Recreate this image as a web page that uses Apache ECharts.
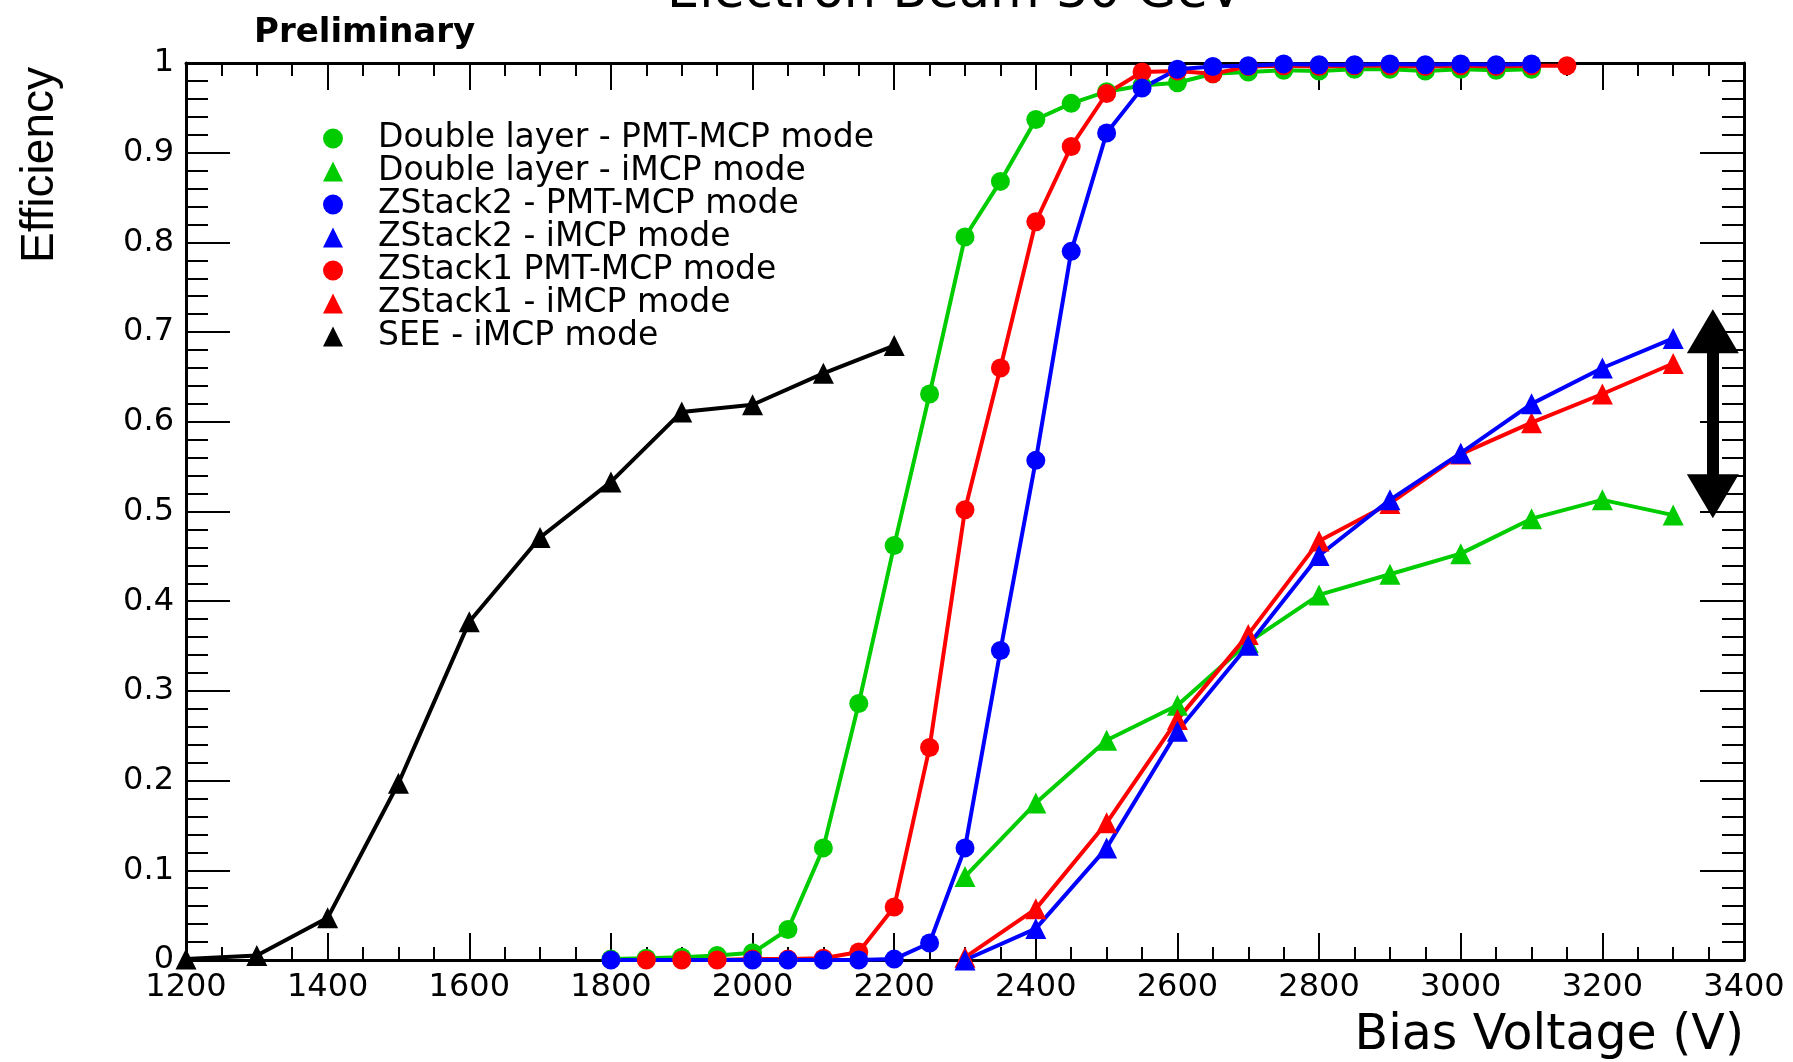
<!DOCTYPE html>
<html>
<head>
<meta charset="utf-8">
<script src="https://cdn.jsdelivr.net/npm/echarts@6/dist/echarts.min.js"></script>
<style>
  html, body { margin: 0; padding: 0; background: #fff; }
  #chart { width: 1793px; height: 1062px; }
</style>
</head>
<body>
<div id="chart"></div>
<script>
// Double layer - PMT-MCP mode (green circles)
const dlPmtV = [1800, 1850, 1900, 1950, 2000, 2050, 2100, 2150, 2200, 2250, 2300, 2350, 2400, 2450, 2500, 2550, 2600, 2650, 2700, 2750, 2800, 2850, 2900, 2950, 3000, 3050, 3100];
const dlPmtEff = [0.001, 0.002, 0.003, 0.005, 0.008, 0.034, 0.125, 0.286, 0.462, 0.631, 0.806, 0.868, 0.937, 0.955, 0.968, 0.975, 0.978, 0.988, 0.990, 0.992, 0.991, 0.993, 0.993, 0.991, 0.993, 0.992, 0.993];

// Double layer - iMCP mode (green triangles)
const dlImcpV = [2300, 2400, 2500, 2600, 2700, 2800, 2900, 3000, 3100, 3200, 3300];
const dlImcpEff = [0.093, 0.175, 0.245, 0.284, 0.354, 0.407, 0.430, 0.453, 0.492, 0.513, 0.496];

// ZStack2 - PMT-MCP mode (blue circles)
const zs2PmtV = [1800, 2000, 2050, 2100, 2150, 2200, 2250, 2300, 2350, 2400, 2450, 2500, 2550, 2600, 2650, 2700, 2750, 2800, 2850, 2900, 2950, 3000, 3050, 3100];
const zs2PmtEff = [0, 0, 0, 0, 0, 0.001, 0.019, 0.125, 0.345, 0.557, 0.790, 0.922, 0.972, 0.993, 0.996, 0.997, 0.999, 0.998, 0.998, 0.999, 0.998, 0.999, 0.998, 0.999];

// ZStack2 - iMCP mode (blue triangles)
const zs2ImcpV = [2300, 2400, 2500, 2600, 2700, 2800, 2900, 3000, 3100, 3200, 3300];
const zs2ImcpEff = [0, 0.035, 0.125, 0.255, 0.351, 0.451, 0.513, 0.565, 0.620, 0.660, 0.693];

// ZStack1 PMT-MCP mode (red circles)
const zs1PmtV = [1850, 1900, 1950, 2000, 2050, 2100, 2150, 2200, 2250, 2300, 2350, 2400, 2450, 2500, 2550, 2600, 2650, 2700, 2750, 2800, 2850, 2900, 2950, 3000, 3050, 3100, 3150];
const zs1PmtEff = [0, 0, 0, 0.001, 0.001, 0.002, 0.009, 0.059, 0.237, 0.502, 0.660, 0.823, 0.907, 0.966, 0.990, 0.991, 0.988, 0.996, 0.997, 0.996, 0.997, 0.997, 0.996, 0.997, 0.996, 0.997, 0.997];

// ZStack1 - iMCP mode (red triangles)
const zs1ImcpV = [2300, 2400, 2500, 2600, 2700, 2800, 2900, 3000, 3100, 3200, 3300];
const zs1ImcpEff = [0.003, 0.057, 0.153, 0.268, 0.363, 0.467, 0.509, 0.564, 0.599, 0.631, 0.665];

// SEE - iMCP mode (black triangles)
const seeV = [1200, 1300, 1400, 1500, 1600, 1700, 1800, 1900, 2000, 2100, 2200];
const seeEff = [0.001, 0.005, 0.047, 0.197, 0.377, 0.471, 0.533, 0.611, 0.619, 0.654, 0.685];

// spread arrow at the right edge (shaft ends, heads sit on them)
const arrowV = 3356;
const arrowTop = 0.701;
const arrowBottom = 0.517;

const GREEN = "#00cc00";
const RED = "#ff0000";
const BLUE = "#0000ff";
const BLACK = "#000000";

const zip = (xs, ys) => xs.map((x, i) => [x, ys[i]]);

const makeSeries = (name, xs, ys, color, symbol) => ({
  name: name,
  type: "line",
  data: zip(xs, ys),
  symbol: symbol,
  symbolSize: symbol === "circle" ? 19 : 21,
  showAllSymbol: true,
  itemStyle: { color: color },
  lineStyle: { color: color, width: 4 },
  emphasis: { disabled: true },
});

const chart = echarts.init(document.getElementById("chart"));

const tickX = {
  show: true,
  inside: true,
  length: 27,
  lineStyle: { color: BLACK, width: 2 },
};
const minorX = {
  show: true,
  splitNumber: 4,
  length: 13,
  lineStyle: { color: BLACK, width: 2 },
};
const tickY = {
  show: true,
  inside: true,
  length: 44,
  lineStyle: { color: BLACK, width: 2 },
};
const minorY = {
  show: true,
  splitNumber: 5,
  length: 22,
  lineStyle: { color: BLACK, width: 2 },
};
const axisLine = { show: true, onZero: false, lineStyle: { color: BLACK, width: 3 } };

const seeSeries = makeSeries("SEE - iMCP mode", seeV, seeEff, BLACK, "triangle");
seeSeries.markLine = {
  silent: true,
  symbol: ["triangle", "triangle"],
  symbolSize: [52, 44],
  label: { show: false },
  lineStyle: { color: BLACK, width: 12, type: "solid" },
  data: [[{ coord: [arrowV, arrowTop] }, { coord: [arrowV, arrowBottom] }]],
};

const option = {
  animation: false,
  backgroundColor: "#ffffff",
  title: {
    text: "Electron Beam 30 GeV",
    left: 662,
    top: -37,
    textStyle: {
      fontFamily: "DejaVu Sans",
      fontSize: 51,
      fontWeight: "normal",
      color: BLACK,
    },
  },
  graphic: [
    {
      type: "text",
      x: 254,
      y: 33,
      style: {
        text: "Preliminary",
        fontFamily: "DejaVu Sans",
        fontWeight: "bold",
        fontSize: 34,
        fill: BLACK,
        align: "left",
        verticalAlign: "middle",
      },
    },
    {
      type: "text",
      x: 40,
      y: 165,
      rotation: Math.PI / 2,
      style: {
        text: "Efficiency",
        fontFamily: "Liberation Sans",
        fontSize: 46,
        fill: BLACK,
        align: "center",
        verticalAlign: "middle",
      },
    },
  ],
  legend: {
    orient: "vertical",
    left: 318,
    top: 117,
    itemWidth: 20,
    itemHeight: 20,
    itemGap: 0,
    selectedMode: false,
    textStyle: {
      fontFamily: "DejaVu Sans",
      fontSize: 33,
      color: BLACK,
      padding: [0, 0, 0, 30],
    },
    data: [
      { name: "Double layer - PMT-MCP mode", icon: "circle" },
      { name: "Double layer - iMCP mode", icon: "triangle" },
      { name: "ZStack2 - PMT-MCP mode", icon: "circle" },
      { name: "ZStack2 - iMCP mode", icon: "triangle" },
      { name: "ZStack1 PMT-MCP mode", icon: "circle" },
      { name: "ZStack1 - iMCP mode", icon: "triangle" },
      { name: "SEE - iMCP mode", icon: "triangle" },
    ],
  },
  grid: {
    left: 186,
    right: 49,
    top: 63,
    bottom: 102,
  },
  xAxis: [
    {
      type: "value",
      position: "bottom",
      min: 1200,
      max: 3400,
      interval: 200,
      name: "Bias Voltage (V)",
      nameLocation: "end",
      nameGap: 0,
      nameTextStyle: {
        fontFamily: "DejaVu Sans",
        fontSize: 49,
        color: BLACK,
        align: "right",
        verticalAlign: "top",
        padding: [52, 0, 0, 0],
      },
      axisLine: axisLine,
      axisTick: tickX,
      minorTick: minorX,
      splitLine: { show: false },
      axisLabel: {
        fontFamily: "DejaVu Sans",
        fontSize: 32,
        color: BLACK,
        margin: 12,
        formatter: (v) => String(v),
      },
    },
    {
      type: "value",
      position: "top",
      min: 1200,
      max: 3400,
      interval: 200,
      axisLine: axisLine,
      axisTick: tickX,
      minorTick: minorX,
      splitLine: { show: false },
      axisLabel: { show: false },
    },
  ],
  yAxis: [
    {
      type: "value",
      position: "left",
      min: 0,
      max: 1,
      interval: 0.1,
      axisLine: axisLine,
      axisTick: tickY,
      minorTick: minorY,
      splitLine: { show: false },
      axisLabel: {
        fontFamily: "DejaVu Sans",
        fontSize: 32,
        color: BLACK,
        margin: 12,
      },
    },
    {
      type: "value",
      position: "right",
      min: 0,
      max: 1,
      interval: 0.1,
      axisLine: axisLine,
      axisTick: tickY,
      minorTick: minorY,
      splitLine: { show: false },
      axisLabel: { show: false },
    },
  ],
  series: [
    makeSeries("Double layer - PMT-MCP mode", dlPmtV, dlPmtEff, GREEN, "circle"),
    makeSeries("Double layer - iMCP mode", dlImcpV, dlImcpEff, GREEN, "triangle"),
    makeSeries("ZStack1 PMT-MCP mode", zs1PmtV, zs1PmtEff, RED, "circle"),
    makeSeries("ZStack1 - iMCP mode", zs1ImcpV, zs1ImcpEff, RED, "triangle"),
    makeSeries("ZStack2 - PMT-MCP mode", zs2PmtV, zs2PmtEff, BLUE, "circle"),
    makeSeries("ZStack2 - iMCP mode", zs2ImcpV, zs2ImcpEff, BLUE, "triangle"),
    seeSeries,
  ],
};

chart.setOption(option);
</script>
</body>
</html>
